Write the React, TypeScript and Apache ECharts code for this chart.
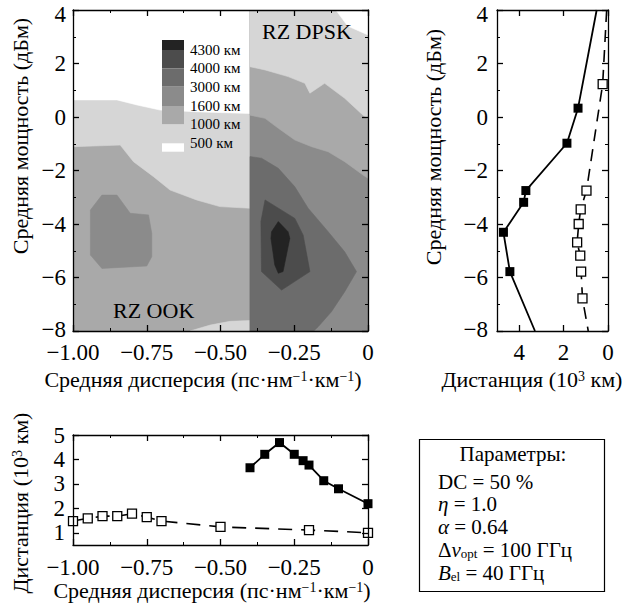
import React, { useEffect, useRef } from "react";
import * as echarts from "echarts";

const FONT = '"Liberation Serif", "Times New Roman", serif';

// ---- Contour levels (km) and fills ----
const levelLabels = ["4300 км", "4000 км", "3000 км", "1600 км", "1000 км", "500 км"];
// level index: 0 <500, 1 500-1000, 2 1000-1600, 3 1600-3000, 4 3000-4000, 5 4000-4300, 6 >4300
const levelColors = ["#ffffff", "#d6d6d6", "#a9a9a9", "#8b8b8b", "#6c6c6c", "#4c4c4c", "#232323"];

// ---- Contour regions, data coords [dispersion, power] ----
const ookBase = [[-1, 4], [-1, -8], [-0.4, -8], [-0.4, 4]];
const ookLight = [[-1, 4], [-1, -1.11], [-0.84, -1.05], [-0.795, -1.67], [-0.727, -2.23], [-0.671, -2.73], [-0.581, -3.1], [-0.502, -3.35], [-0.4, -3.41], [-0.4, 4]];
const ookWhite = [[-1, 4], [-1, 0.64], [-0.851, 0.64], [-0.783, 0.45], [-0.705, 0.26], [-0.569, 0.19], [-0.4, 0.13], [-0.4, 4]];
const ookBottom = [[-0.603, -8], [-0.535, -7.78], [-0.468, -7.64], [-0.4, -7.61], [-0.4, -8]];
const ookBlob = [[-0.902, -2.92], [-0.851, -2.92], [-0.806, -3.6], [-0.744, -3.66], [-0.733, -4.35], [-0.733, -5.22], [-0.75, -5.57], [-0.902, -5.66], [-0.941, -5.16], [-0.941, -3.48]];
const dpskBase = [[-0.4, 4], [-0.4, -8], [0, -8], [0, 4]];
const dpsk1000 = [[-0.4, 4], [-0.4, 0.07], [-0.349, -0.05], [-0.304, -0.42], [-0.248, -0.86], [-0.191, -1.11], [-0.135, -1.3], [-0.079, -1.67], [-0.017, -2.17], [0, -2.29], [0, 4]];
const dpskLight = [[-0.4, 4], [-0.4, 1.88], [-0.349, 1.76], [-0.271, 1.51], [-0.214, 1.26], [-0.197, 0.89], [-0.147, 1.26], [-0.079, 0.7], [-0.017, 0.07], [0, -0.05], [0, 4]];
const dpskWhite = [[-0.109, 4], [-0.069, 3.4], [0, 3.07], [0, 4]];
const dpsk3000 = [[-0.4, -1.48], [-0.361, -1.54], [-0.304, -1.92], [-0.248, -2.61], [-0.203, -3.41], [-0.135, -4.29], [-0.079, -5.04], [-0.039, -5.78], [-0.079, -6.53], [-0.124, -7.28], [-0.169, -7.84], [-0.184, -8], [-0.4, -8]];
const dpsk4000 = [[-0.349, -3.1], [-0.248, -3.79], [-0.22, -4.41], [-0.197, -5.78], [-0.293, -6.47], [-0.361, -5.78], [-0.363, -3.91]];
const dpsk4300 = [[-0.304, -3.91], [-0.271, -4.29], [-0.265, -4.53], [-0.288, -5.78], [-0.304, -5.84], [-0.316, -5.53], [-0.329, -4.53], [-0.327, -4.29]];

const regions = [
  { pts: ookBase, level: 2 },
  { pts: ookLight, level: 1 },
  { pts: ookWhite, level: 0 },
  { pts: ookBottom, level: 1 },
  { pts: ookBlob, level: 3 },
  { pts: dpskBase, level: 3 },
  { pts: dpsk1000, level: 2 },
  { pts: dpskLight, level: 1 },
  { pts: dpskWhite, level: 0 },
  { pts: dpsk3000, level: 4 },
  { pts: dpsk4000, level: 5 },
  { pts: dpsk4300, level: 6 },
];

// ---- Right panel: distance (10^3 km) vs power (dBm) ----
const rightDistFilled = [0.51, 1.35, 1.85, 3.7, 3.8, 4.71, 4.42, 3.29];
const rightPowerFilled = [4, 0.33, -0.98, -2.75, -3.19, -4.31, -5.78, -8];
const rightDistOpen = [0.06, 0.24, 0.97, 1.23, 1.32, 1.39, 1.25, 1.21, 1.15, 0.89];
const rightPowerOpen = [4, 1.23, -2.75, -3.45, -4.0, -4.69, -5.18, -5.78, -6.78, -8];

// ---- Bottom panel: distance vs dispersion ----
const bottomDispFilled = [-0.4, -0.35, -0.3, -0.25, -0.22, -0.2, -0.15, -0.1, 0];
const bottomDistFilled = [3.66, 4.21, 4.69, 4.21, 3.95, 3.77, 3.13, 2.8, 2.19];
const bottomDispOpen = [-1, -0.95, -0.9, -0.85, -0.8, -0.75, -0.7, -0.5, -0.2, 0];
const bottomDistOpen = [1.48, 1.59, 1.68, 1.68, 1.78, 1.64, 1.48, 1.24, 1.11, 1.0];

const rightDistTicks = [0, 2, 4];
const bottomDistTicks = [1, 2, 3, 4, 5];

const fmtDisp = (v: number) => (v === 0 ? "0" : v.toFixed(2).replace("-", "\u2212"));
const fmtInt = (v: number) => (v === 0 ? "0" : String(v).replace("-", "\u2212"));
const fmtPower = (v: number) =>
  v === 4 ? "{t|4}" : v === -8 ? "{b|" + fmtInt(v) + "}" : fmtInt(v);

const lineCol = "#000";
const labelStyle = { color: "#000", fontSize: 23, lineHeight: 18, fontFamily: FONT };

function axis(extra: any, showLabel: boolean, minor: boolean) {
  return {
    type: "value",
    z: 5,
    splitLine: { show: false },
    axisLine: { show: true, onZero: false, lineStyle: { color: lineCol, width: 1.3 } },
    axisTick: { show: true, inside: true, length: 6, lineStyle: { color: lineCol, width: 1.3 } },
    minorTick: { show: minor, splitNumber: 2, length: 3, lineStyle: { color: lineCol, width: 1 } },
    minorSplitLine: { show: false },
    ...extra,
    axisLabel: { show: showLabel, ...labelStyle, ...(extra.axisLabel || {}) },
  };
}

const edgeLabelRich = {
  t: { fontSize: 23, fontFamily: FONT, color: "#000", lineHeight: 18, padding: [8, 0, 0, 0] },
  b: { fontSize: 23, fontFamily: FONT, color: "#000", lineHeight: 18, padding: [0, 0, 4, 0] },
};

const supRich = {
  sup: { fontSize: 14, fontFamily: FONT, fill: "#000", lineHeight: 12, verticalAlign: "top" },
  sub: { fontSize: 13, fontFamily: FONT, fill: "#000", lineHeight: 10, verticalAlign: "bottom" },
  i: { fontSize: 21, fontFamily: FONT, fontStyle: "italic", fill: "#000", lineHeight: 20 },
};

function txt(x: number, y: number, text: string, opts: any = {}) {
  return {
    type: "text",
    x,
    y,
    z: 100,
    rotation: opts.rotation || 0,
    style: {
      text,
      fontSize: opts.fontSize || 22,
      lineHeight: opts.lineHeight || 20,
      fontFamily: FONT,
      fill: "#000",
      align: opts.align || "center",
      verticalAlign: "middle",
      rich: supRich,
    },
  };
}

export default function App() {
  const ref = useRef<HTMLDivElement>(null);
  useEffect(() => {
    const chart = echarts.init(ref.current!, null, { renderer: "svg" });

    const legendEdges = [40, 50, 68.3, 86.7, 106, 124.3, 143.3, 151.7];
    const legendLevels = [6, 5, 4, 3, 2, 1, 0];
    const graphics: any[] = [];
    legendLevels.forEach((lv, i) => {
      graphics.push({
        type: "rect",
        z: 100,
        shape: { x: 162, y: legendEdges[i], width: 22, height: legendEdges[i + 1] - legendEdges[i] },
        style: { fill: levelColors[lv] },
      });
    });
    levelLabels.forEach((lab, i) => {
      graphics.push(txt(190, legendEdges[i + 1], lab, { align: "left", fontSize: 15, lineHeight: 15 }));
    });
    graphics.push(txt(262, 31, "RZ DPSK", { align: "left" }));
    graphics.push(txt(113, 310, "RZ OOK", { align: "left" }));
    // axis names
    graphics.push(txt(203, 379, "Средняя дисперсия (пс·нм{sup|\u22121}·км{sup|\u22121})"));
    graphics.push(txt(212, 590, "Средняя дисперсия (пс·нм{sup|\u22121}·км{sup|\u22121})"));
    graphics.push(txt(20, 136, "Средняя мощность (дБм)", { rotation: Math.PI / 2 }));
    graphics.push(txt(433, 147, "Средняя мощность (дБм)", { rotation: Math.PI / 2 }));
    graphics.push(txt(532, 379, "Дистанция (10{sup|3} км)"));
    graphics.push(txt(20, 503, "Дистанция (10{sup|3} км)", { rotation: Math.PI / 2 }));
    // parameter box
    graphics.push({
      type: "rect",
      z: 100,
      shape: { x: 419.5, y: 439.5, width: 185, height: 152 },
      style: { fill: "#fff", stroke: "#000", lineWidth: 1.2 },
    });
    const pOpts = { align: "left", fontSize: 21, lineHeight: 20 };
    graphics.push(txt(513, 454, "Параметры:", { fontSize: 21, lineHeight: 20 }));
    graphics.push(txt(438, 482, "DC = 50 %", pOpts));
    graphics.push(txt(438, 504, "{i|η} = 1.0", pOpts));
    graphics.push(txt(438, 527, "{i|α} = 0.64", pOpts));
    graphics.push(txt(438, 550, "Δ{i|ν}{sub|opt} = 100 ГГц", pOpts));
    graphics.push(txt(438, 573, "{i|B}{sub|el} = 40 ГГц", pOpts));

    const option: any = {
      animation: false,
      backgroundColor: "#fff",
      grid: [
        { left: 73, top: 10, width: 295, height: 321, outerBoundsMode: "none", containLabel: false },
        { left: 497, top: 10, width: 111, height: 321, outerBoundsMode: "none", containLabel: false },
        { left: 73, top: 435, width: 295, height: 110, outerBoundsMode: "none", containLabel: false },
      ],
      xAxis: [
        axis({ gridIndex: 0, min: -1, max: 0, interval: 0.25, position: "bottom", axisLabel: { margin: 12, formatter: fmtDisp } }, true, true),
        axis({ gridIndex: 0, min: -1, max: 0, interval: 0.25, position: "top" }, false, true),
        axis({ gridIndex: 1, min: 0, max: 5, inverse: true, position: "bottom", axisLabel: { margin: 12, formatter: fmtInt, customValues: rightDistTicks }, axisTick: { show: true, inside: true, length: 6, customValues: rightDistTicks, lineStyle: { color: lineCol, width: 1.3 } } }, true, false),
        axis({ gridIndex: 1, min: 0, max: 5, inverse: true, position: "top", axisTick: { show: true, inside: true, length: 6, customValues: rightDistTicks, lineStyle: { color: lineCol, width: 1.3 } } }, false, false),
        axis({ gridIndex: 2, min: -1, max: 0, interval: 0.25, position: "bottom", axisLabel: { margin: 13, formatter: fmtDisp } }, true, true),
        axis({ gridIndex: 2, min: -1, max: 0, interval: 0.25, position: "top" }, false, true),
      ],
      yAxis: [
        axis({ gridIndex: 0, min: -8, max: 4, interval: 2, position: "left", axisLabel: { margin: 7, formatter: fmtPower, rich: edgeLabelRich } }, true, true),
        axis({ gridIndex: 0, min: -8, max: 4, interval: 2, position: "right" }, false, true),
        axis({ gridIndex: 1, min: -8, max: 4, interval: 2, position: "left", axisLabel: { margin: 9, formatter: fmtPower, rich: edgeLabelRich } }, true, true),
        axis({ gridIndex: 1, min: -8, max: 4, interval: 2, position: "right" }, false, true),
        axis({ gridIndex: 2, min: 0.5, max: 5, position: "left", axisLabel: { margin: 8, formatter: fmtInt, customValues: bottomDistTicks }, axisTick: { show: true, inside: true, length: 6, customValues: bottomDistTicks, lineStyle: { color: lineCol, width: 1.3 } } }, true, false),
        axis({ gridIndex: 2, min: 0.5, max: 5, position: "right", axisTick: { show: true, inside: true, length: 6, customValues: bottomDistTicks, lineStyle: { color: lineCol, width: 1.3 } } }, false, false),
      ],
      graphic: graphics,
      series: [
        {
          type: "custom",
          xAxisIndex: 0,
          yAxisIndex: 0,
          silent: true,
          clip: true,
          z: 1,
          encode: { x: 0, y: 1 },
          data: regions.map((r) => r.pts[0]),
          renderItem: (params: any, api: any) => {
            const reg = regions[params.dataIndex];
            const pts = reg.pts.map((p) => api.coord(p));
            const col = levelColors[reg.level];
            return {
              type: "polygon",
              shape: { points: pts },
              style: { fill: col, stroke: col, lineWidth: 0.6 },
            };
          },
        },
        {
          type: "line",
          xAxisIndex: 2,
          yAxisIndex: 2,
          clip: false,
          z: 3,
          symbol: "rect",
          symbolSize: 9,
          lineStyle: { color: "#000", width: 1.8 },
          itemStyle: { color: "#000" },
          data: rightDistFilled.map((d, i) => ({
            value: [d, rightPowerFilled[i]],
            symbol: i === 0 || i === rightDistFilled.length - 1 ? "none" : "rect",
          })),
        },
        {
          type: "line",
          xAxisIndex: 2,
          yAxisIndex: 2,
          clip: false,
          z: 3,
          symbol: "rect",
          symbolSize: 9,
          lineStyle: { color: "#000", width: 1.6, type: [12, 8] },
          itemStyle: { color: "#fff", borderColor: "#000", borderWidth: 1.3 },
          data: rightDistOpen.map((d, i) => ({
            value: [d, rightPowerOpen[i]],
            symbol: i === 0 || i === rightDistOpen.length - 1 ? "none" : "rect",
          })),
        },
        {
          type: "line",
          xAxisIndex: 4,
          yAxisIndex: 4,
          clip: false,
          z: 3,
          symbol: "rect",
          symbolSize: 9,
          lineStyle: { color: "#000", width: 1.8 },
          itemStyle: { color: "#000" },
          data: bottomDispFilled.map((x, i) => [x, bottomDistFilled[i]]),
        },
        {
          type: "line",
          xAxisIndex: 4,
          yAxisIndex: 4,
          clip: false,
          z: 3,
          symbol: "rect",
          symbolSize: 9,
          lineStyle: { color: "#000", width: 1.6, type: [14, 9] },
          itemStyle: { color: "#fff", borderColor: "#000", borderWidth: 1.3 },
          data: bottomDispOpen.map((x, i) => [x, bottomDistOpen[i]]),
        },
      ],
    };
    chart.setOption(option);
    return () => chart.dispose();
  }, []);
  return (
    <div
      ref={ref}
      style={{ position: "absolute", left: 0, top: 0, width: 626, height: 607, background: "#fff" }}
    />
  );
}
